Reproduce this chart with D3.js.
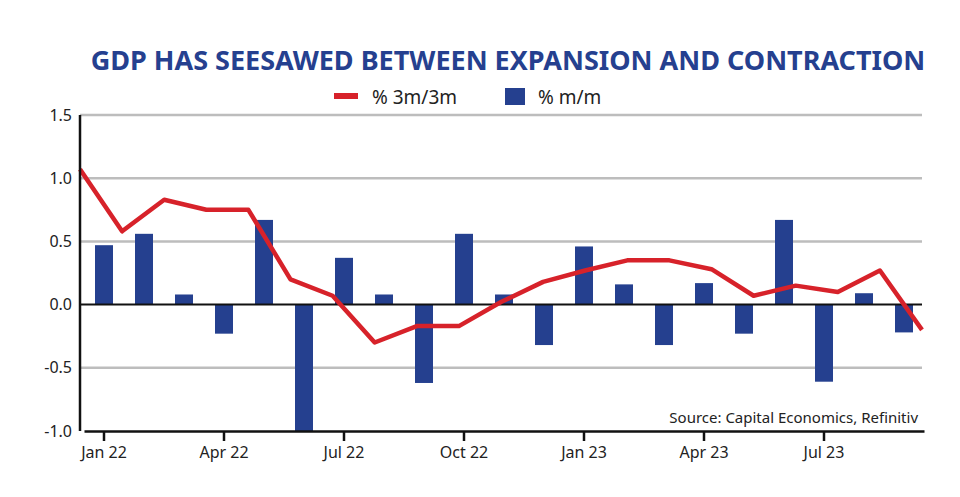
<!DOCTYPE html>
<html>
<head>
<meta charset="utf-8">
<script src="https://cdn.jsdelivr.net/npm/d3@7"></script>
<style>
  body { margin: 0; background: #fff; }
  text { font-family: "Noto Sans", sans-serif; }
</style>
</head>
<body>
<div id="vis"></div>
<script>
// data
const MONTHS = ["Jan 22","Feb 22","Mar 22","Apr 22","May 22","Jun 22","Jul 22","Aug 22","Sep 22","Oct 22","Nov 22","Dec 22",
                "Jan 23","Feb 23","Mar 23","Apr 23","May 23","Jun 23","Jul 23","Aug 23","Sep 23"];
const MOM = [0.47,0.56,0.08,-0.23,0.67,-1.0,0.37,0.08,-0.62,0.56,0.08,-0.32,0.46,0.16,-0.32,0.17,-0.23,0.67,-0.61,0.09,-0.22];
const THREE_M = [1.07,0.58,0.83,0.75,0.75,0.2,0.07,-0.3,-0.17,-0.17,0.02,0.18,0.27,0.35,0.35,0.28,0.07,0.15,0.1,0.27,-0.2];
const TICK_LABELS = ["Jan 22","Apr 22","Jul 22","Oct 22","Jan 23","Apr 23","Jul 23"];
const Y_TICKS = [1.5,1.0,0.5,0.0,-0.5,-1.0];

const FRAME_WIDTH = 960, FRAME_HEIGHT = 497;
const MARGINS = {left: 80, right: 38, top: 115, bottom: 66};
const VIS_WIDTH = FRAME_WIDTH - MARGINS.left - MARGINS.right;
const VIS_HEIGHT = FRAME_HEIGHT - MARGINS.top - MARGINS.bottom;
const BLUE = "#25408f", RED = "#d7222a";

const svg = d3.select("#vis").append("svg")
  .attr("width", FRAME_WIDTH).attr("height", FRAME_HEIGHT);

const g = svg.append("g").attr("transform", `translate(${MARGINS.left},${MARGINS.top})`);

const X_BAND = d3.scaleBand().domain(MONTHS).range([4, 844]).paddingInner(0.55).paddingOuter(0.275);
const X_LINE = d3.scalePoint().domain(MONTHS).range([0, VIS_WIDTH]);
const Y = d3.scaleLinear().domain([-1, 1.5]).range([VIS_HEIGHT, 0]);

// gridlines
g.selectAll(".grid").data(Y_TICKS.filter(d => d !== 0 && d !== -1)).enter()
  .append("line")
  .attr("x1", 0).attr("x2", VIS_WIDTH)
  .attr("y1", d => Y(d)).attr("y2", d => Y(d))
  .attr("stroke", "#bdbdbd").attr("stroke-width", 2.5);

// y tick labels
g.selectAll(".ylab").data(Y_TICKS).enter()
  .append("text")
  .attr("x", -8).attr("y", d => Y(d)).attr("dy", "0.35em")
  .attr("text-anchor", "end").attr("font-size", 16).attr("fill", "#222")
  .text(d => d.toFixed(1));

// bars
g.selectAll(".bar").data(MOM).enter()
  .append("rect")
  .attr("x", (d, i) => X_BAND(MONTHS[i]))
  .attr("width", X_BAND.bandwidth())
  .attr("y", d => Y(Math.max(0, d)))
  .attr("height", d => Math.abs(Y(d) - Y(0)))
  .attr("fill", BLUE);

// zero line
g.append("line").attr("x1", 0).attr("x2", VIS_WIDTH)
  .attr("y1", Y(0)).attr("y2", Y(0)).attr("stroke", "#111").attr("stroke-width", 2);

// line
g.append("path").datum(THREE_M)
  .attr("d", d3.line().x((d, i) => X_LINE(MONTHS[i])).y(d => Y(d)))
  .attr("fill", "none").attr("stroke", RED).attr("stroke-width", 4.5)
  .attr("stroke-linejoin", "round");

// axes
g.append("line").attr("x1", 0).attr("x2", 0).attr("y1", 0).attr("y2", VIS_HEIGHT)
  .attr("stroke", "#111").attr("stroke-width", 2.5);
const xAxis = g.append("g").attr("transform", `translate(0,${VIS_HEIGHT})`)
  .call(d3.axisBottom(X_BAND).tickValues(TICK_LABELS).tickSize(10).tickSizeOuter(0).tickPadding(6));
xAxis.select(".domain").attr("stroke", "#111").attr("stroke-width", 2.5);
xAxis.selectAll(".tick line").attr("stroke", "#111").attr("stroke-width", 2.5);
xAxis.selectAll("text").attr("font-size", 16).attr("fill", "#222")
  .attr("font-family", "Noto Sans, sans-serif");

// title
svg.append("text").attr("x", 508).attr("y", 70).attr("text-anchor", "middle")
  .attr("font-size", 27).attr("font-weight", 700).attr("fill", BLUE)
  .attr("font-family", "Open Sans, sans-serif")
  .text("GDP HAS SEESAWED BETWEEN EXPANSION AND CONTRACTION");

// legend
svg.append("rect").attr("x", 334).attr("y", 93).attr("width", 24).attr("height", 6).attr("fill", RED);
svg.append("text").attr("x", 372).attr("y", 104).attr("font-size", 19).attr("fill", "#222").text("% 3m/3m");
svg.append("rect").attr("x", 505).attr("y", 88).attr("width", 20).attr("height", 17).attr("fill", BLUE);
svg.append("text").attr("x", 538).attr("y", 104).attr("font-size", 19).attr("fill", "#222").text("% m/m");

// source
svg.append("text").attr("x", 918).attr("y", 423).attr("text-anchor", "end")
  .attr("font-size", 15).attr("fill", "#222").text("Source: Capital Economics, Refinitiv");
</script>
</body>
</html>
